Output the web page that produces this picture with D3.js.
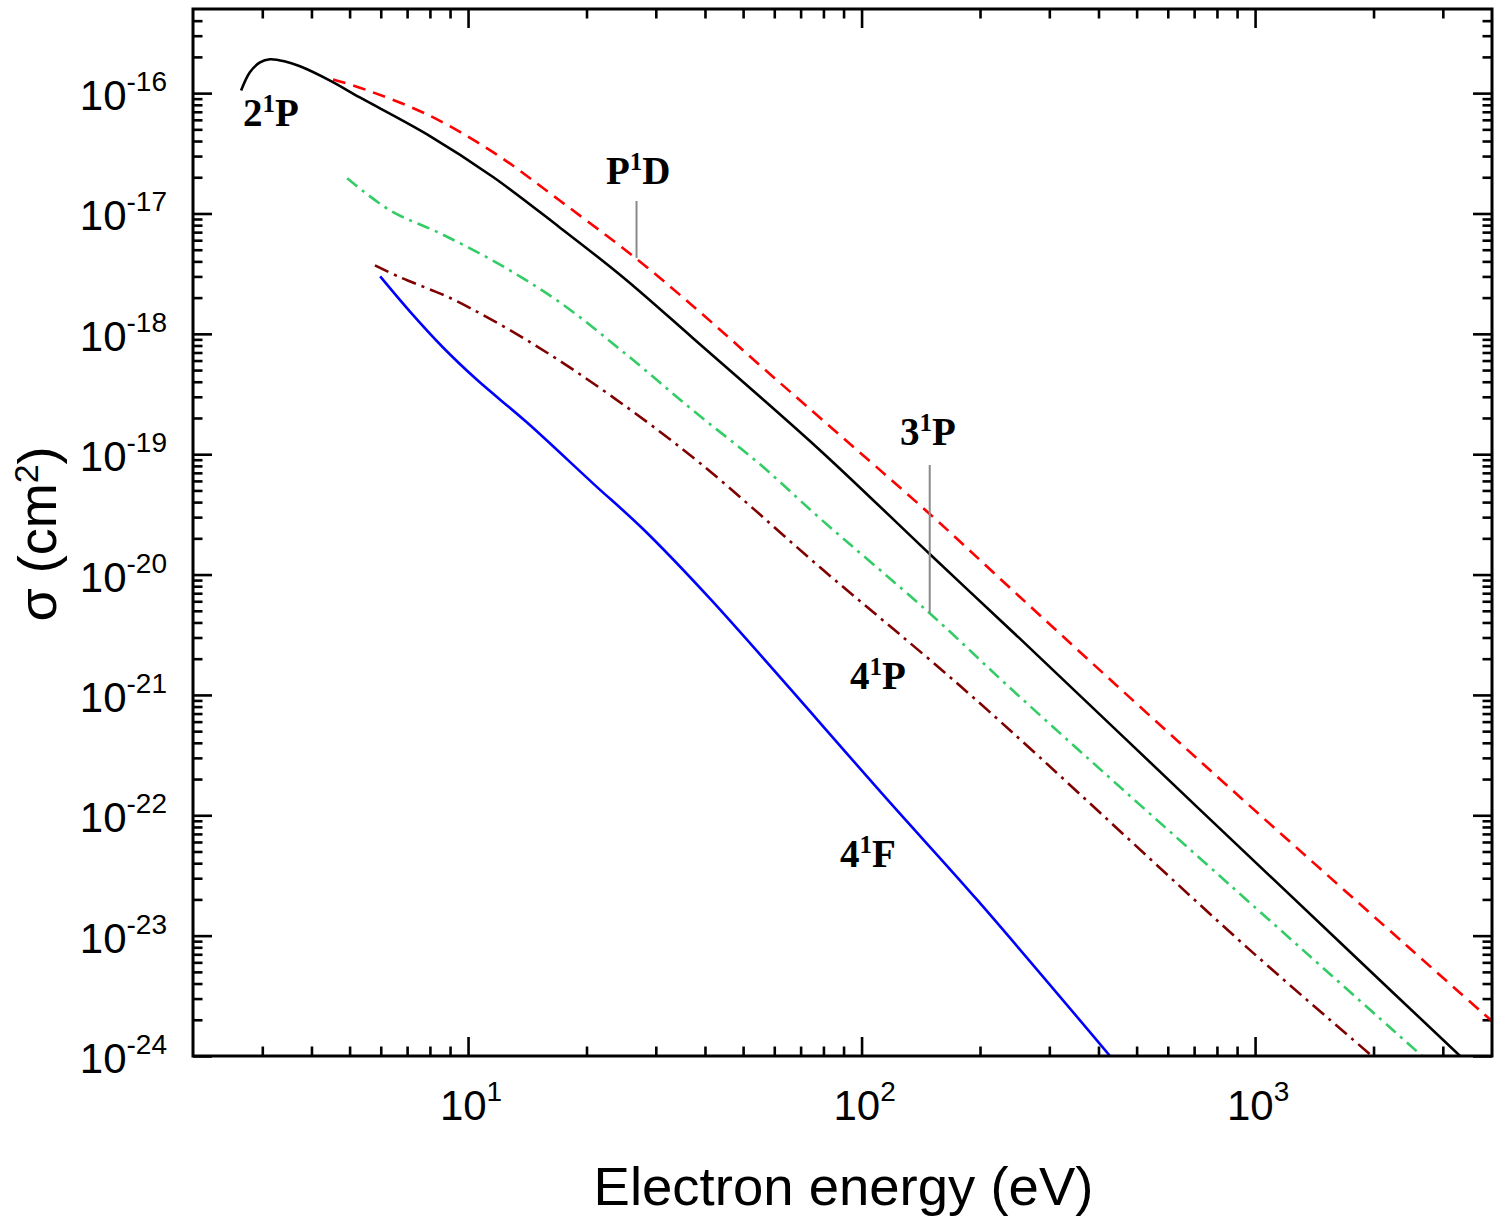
<!DOCTYPE html>
<html>
<head>
<meta charset="utf-8">
<script src="https://cdn.jsdelivr.net/npm/d3@7"></script>
<style>
  body { margin: 0; background: #ffffff; }
  svg { display: block; }
</style>
</head>
<body>
<svg id="chart" width="1500" height="1221"></svg>
<script>
// ---------------- data ----------------
const xMajorTicks = [10, 100, 1000];
const xTickExponents = ["1", "2", "3"];
const yMajorTicks = [1e-16, 1e-17, 1e-18, 1e-19, 1e-20, 1e-21, 1e-22, 1e-23, 1e-24];
const yTickExponents = ["-16", "-17", "-18", "-19", "-20", "-21", "-22", "-23", "-24"];

// 2^1P (black solid)
const energy2P = [2.65, 2.79, 2.96, 3.14, 3.43, 3.74, 4.46, 5.31, 7.87, 11.6, 17.1, 24.8, 37.3, 78.4, 149, 253, 725, 1744, 3319];
const sigma2P  = [1.05e-16, 1.49e-16, 1.80e-16, 1.91e-16, 1.83e-16, 1.67e-16, 1.27e-16, 9.2e-17, 4.54e-17, 2.0e-17, 7.66e-18, 2.94e-18, 9.2e-19, 1.08e-19, 1.48e-20, 2.92e-21, 1.11e-22, 7.31e-24, 1.0e-24];

// P^1D (red dashed)
const energyP1D = [4.54, 5.31, 7.87, 11.6, 17.1, 26.7, 38.9, 55.2, 79.8, 149, 253, 725, 2434, 4000];
const sigmaP1D  = [1.30e-16, 1.11e-16, 6.65e-17, 3.22e-17, 1.28e-17, 4.24e-18, 1.51e-18, 5.47e-19, 1.91e-19, 3.19e-20, 6.48e-21, 2.81e-22, 8.2e-24, 1.95e-24];

// 3^1P (green dash-dot)
const energy3P = [4.93, 6.34, 8.49, 11.9, 17.1, 25.4, 37.3, 55.2, 78.4, 149, 253, 1324, 2657];
const sigma3P  = [1.96e-17, 1.06e-17, 6.84e-18, 3.85e-18, 1.83e-18, 6.63e-19, 2.31e-19, 8.24e-20, 2.93e-20, 4.77e-21, 9.57e-22, 7.58e-24, 1.0e-24];

// 4^1P (dark red dash-dot)
const energy4P = [5.80, 6.72, 7.87, 9.27, 14.4, 23.0, 38.9, 78.4, 192, 971, 1983];
const sigma4P  = [3.71e-18, 2.95e-18, 2.39e-18, 1.90e-18, 8.5e-19, 3.08e-19, 8.4e-20, 1.15e-20, 9.57e-22, 7.58e-24, 1.0e-24];

// 4^1F (blue solid)
const energy4F = [5.98, 7.12, 8.64, 10.5, 14.1, 20.8, 27.8, 41.2, 116.8, 197, 428];
const sigma4F  = [3.0e-18, 1.53e-18, 7.7e-19, 4.19e-19, 1.84e-19, 5.7e-20, 2.4e-20, 6.3e-21, 1.33e-22, 1.97e-23, 1.0e-24];

// curve labels: main character, term letter, position (energy, sigma at text baseline, left edge)
const labelFirst = ["2", "P", "3", "4", "4"];
const labelLast  = ["P", "D", "P", "P", "F"];
const labelEnergy = [2.68, 22.4, 125.3, 93.5, 88.2];
const labelSigma  = [5.34e-17, 1.76e-17, 1.19e-19, 1.12e-21, 3.72e-23];

// gray leader lines: energy, top sigma, bottom sigma
const leaderEnergy = [26.8, 149];
const leaderTop    = [1.27e-17, 8.14e-20];
const leaderBottom = [4.27e-18, 4.80e-21];

// ---------------- drawing ----------------
const svg = d3.select("#chart");
const L = 193, R = 1492, T = 9, B = 1056;

const x = d3.scaleLog().domain([2, 4000]).range([L, R]);
const y = d3.scaleLog().domain([1e-24, 5e-16]).range([B, T]);

const xMinor = [];
[1, 10, 100, 1000].forEach(d => { for (let k = 2; k <= 9; k++) { const v = k * d; if (v > 2 && v < 4000) xMinor.push(v); } });
const yMinor = [];
for (let e = -24; e <= -16; e++) { for (let k = 2; k <= 9; k++) { const v = k * Math.pow(10, e); if (v < 5e-16 * 0.999) yMinor.push(v); } }

function styleAxis(g) {
  g.select(".domain").remove();
  g.selectAll(".tick line").attr("stroke", "#000").attr("stroke-width", 2.6);
  g.selectAll(".tick text").remove();
}

// ticks: inward on all four sides
svg.append("g").attr("transform", `translate(0,${B})`)
  .call(d3.axisBottom(x).tickValues(xMajorTicks).tickSize(-19).tickSizeOuter(0).tickFormat("")).call(styleAxis);
svg.append("g").attr("transform", `translate(0,${B})`)
  .call(d3.axisBottom(x).tickValues(xMinor).tickSize(-9.5).tickSizeOuter(0).tickFormat("")).call(styleAxis);
svg.append("g").attr("transform", `translate(0,${T})`)
  .call(d3.axisTop(x).tickValues(xMajorTicks).tickSize(-19).tickSizeOuter(0).tickFormat("")).call(styleAxis);
svg.append("g").attr("transform", `translate(0,${T})`)
  .call(d3.axisTop(x).tickValues(xMinor).tickSize(-9.5).tickSizeOuter(0).tickFormat("")).call(styleAxis);
svg.append("g").attr("transform", `translate(${L},0)`)
  .call(d3.axisLeft(y).tickValues(yMajorTicks).tickSize(-19).tickSizeOuter(0).tickFormat("")).call(styleAxis);
svg.append("g").attr("transform", `translate(${L},0)`)
  .call(d3.axisLeft(y).tickValues(yMinor).tickSize(-9.5).tickSizeOuter(0).tickFormat("")).call(styleAxis);
svg.append("g").attr("transform", `translate(${R},0)`)
  .call(d3.axisRight(y).tickValues(yMajorTicks).tickSize(-19).tickSizeOuter(0).tickFormat("")).call(styleAxis);
svg.append("g").attr("transform", `translate(${R},0)`)
  .call(d3.axisRight(y).tickValues(yMinor).tickSize(-9.5).tickSizeOuter(0).tickFormat("")).call(styleAxis);

// tick labels
const sans = "'Liberation Sans', Arial, Helvetica, sans-serif";
xMajorTicks.forEach((v, i) => {
  const t = svg.append("text").attr("x", x(v) + 3).attr("y", B + 64)
    .attr("text-anchor", "middle").attr("font-family", sans).attr("font-size", 42).attr("fill", "#000");
  t.append("tspan").text("10");
  t.append("tspan").attr("dy", -19).attr("font-size", 28).text(xTickExponents[i]);
});
yMajorTicks.forEach((v, i) => {
  const t = svg.append("text").attr("x", 167).attr("y", y(v) + 17)
    .attr("text-anchor", "end").attr("font-family", sans).attr("font-size", 42).attr("fill", "#000");
  t.append("tspan").text("10");
  t.append("tspan").attr("dy", -19).attr("font-size", 28).text(yTickExponents[i]);
});

// axis titles
svg.append("text").attr("x", (L + R) / 2 + 1).attr("y", 1205)
  .attr("text-anchor", "middle").attr("font-family", sans).attr("font-size", 54.5).attr("fill", "#000")
  .text("Electron energy (eV)");
const yt = svg.append("text").attr("transform", "translate(56,534) rotate(-90)")
  .attr("text-anchor", "middle").attr("font-family", sans).attr("font-size", 54).attr("fill", "#000");
yt.append("tspan").text("σ (cm");
yt.append("tspan").attr("dy", -18).attr("font-size", 34).text("2");
yt.append("tspan").attr("dy", 18).text(")");

// curves
svg.append("defs").append("clipPath").attr("id", "plotclip")
  .append("rect").attr("x", L).attr("y", T).attr("width", R - L).attr("height", B - T);

const line = d3.line().x(d => x(d[0])).y(d => y(d[1])).curve(d3.curveCatmullRom.alpha(0.5));
const zipS = (xs, ys) => xs.map((v, i) => [v, ys[i]]);

const series = [
  { data: zipS(energy3P, sigma3P), color: "#33cc66", dash: "13,6,3,6", width: 2.6 },
  { data: zipS(energy4P, sigma4P), color: "#800000", dash: "15,6,3,6", width: 2.6 },
  { data: zipS(energy4F, sigma4F), color: "#0000ff", dash: null, width: 2.6 },
  { data: zipS(energyP1D, sigmaP1D), color: "#ff0000", dash: "13,8", width: 2.6 },
  { data: zipS(energy2P, sigma2P), color: "#000000", dash: null, width: 2.6 },
];
const gLines = svg.append("g").attr("clip-path", "url(#plotclip)");
series.forEach(s => {
  gLines.append("path").datum(s.data).attr("d", line)
    .attr("fill", "none").attr("stroke", s.color).attr("stroke-width", s.width)
    .attr("stroke-dasharray", s.dash).attr("stroke-linejoin", "round");
});

// leader lines
leaderEnergy.forEach((e, i) => {
  svg.append("line").attr("x1", x(e)).attr("x2", x(e)).attr("y1", y(leaderTop[i])).attr("y2", y(leaderBottom[i]))
    .attr("stroke", "#8a8a8a").attr("stroke-width", 2);
});

// curve labels (bold serif)
const serif = "'Liberation Serif', 'Times New Roman', Times, serif";
labelFirst.forEach((a, i) => {
  const t = svg.append("text").attr("x", x(labelEnergy[i])).attr("y", y(labelSigma[i]))
    .attr("font-family", serif).attr("font-weight", "bold").attr("font-size", 39).attr("fill", "#000");
  t.append("tspan").text(a);
  t.append("tspan").attr("dy", -14).attr("font-size", 25).text("1");
  t.append("tspan").attr("dy", 14).text(labelLast[i]);
});

// frame
svg.append("rect").attr("x", L).attr("y", T).attr("width", R - L).attr("height", B - T)
  .attr("fill", "none").attr("stroke", "#000").attr("stroke-width", 3);
</script>
</body>
</html>
